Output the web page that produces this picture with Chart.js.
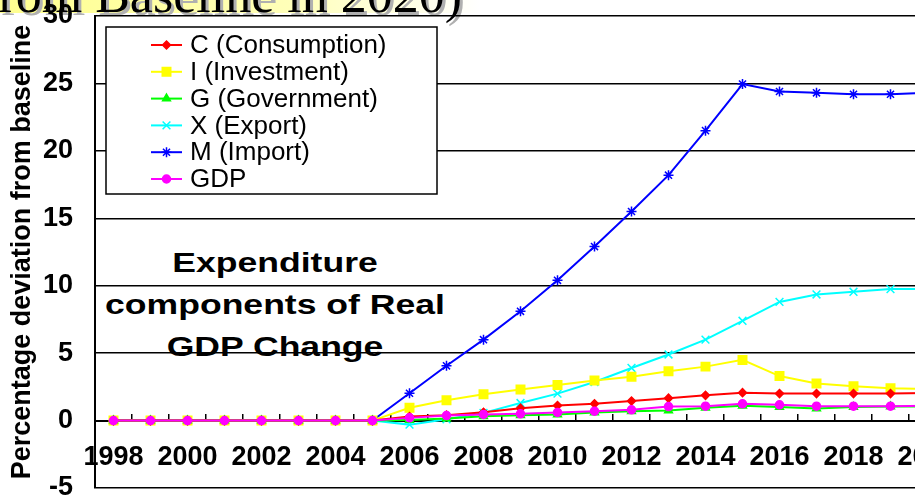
<!DOCTYPE html>
<html>
<head>
<meta charset="utf-8">
<script src="https://cdn.jsdelivr.net/npm/chart.js@4.4.1/dist/chart.umd.min.js"></script>
<style>
  html, body { margin: 0; padding: 0; background: #fff; }
  #wrap { position: relative; width: 915px; height: 500px; overflow: hidden; background: #fff; }
  #band { position: absolute; left: 0; top: 0; width: 480px; height: 13px;
          background: linear-gradient(to right, #ffff90 0%, #ffffb8 60%, rgba(255,255,255,0) 100%); }
  #slideTitle { position: absolute; right: 453px; top: -35px; white-space: nowrap;
                font: 52px "Liberation Serif", "Times New Roman", serif; color: #000;
                text-shadow: 3px 3px 0 #b0b0b0; z-index: 1; }
  #note { position: absolute; left: 75px; top: 242px; width: 400px; text-align: center;
          font: bold 28px "Liberation Sans", Arial, sans-serif; line-height: 42px; color: #000;
          transform: scaleX(1.27); transform-origin: 50% 0; }
  #chartBox { position: absolute; left: 0; top: 0; z-index: 2; }
</style>
</head>
<body>
<div id="wrap">
  <div id="band"></div>
  <div id="slideTitle">from Baseline in 2020)</div>
  <div id="note">Expenditure<br>components of Real<br>GDP Change</div>
  <canvas id="chartBox" width="960" height="500"></canvas>
</div>
<script>
// 年次
const years = ['1998','1999','2000','2001','2002','2003','2004','2005','2006','2007','2008','2009',
               '2010','2011','2012','2013','2014','2015','2016','2017','2018','2019','2020'];
const flat = [0, 0, 0, 0, 0, 0, 0, 0];

// 各系列 (baseline からの乖離 %)
const consumption = flat.concat([0.3, 0.4, 0.62, 0.92, 1.12, 1.25, 1.45, 1.66, 1.87, 2.07, 2.0, 2.0, 2.0, 2.0, 2.05]);
const investment  = flat.concat([0.95, 1.5, 1.95, 2.3, 2.63, 2.98, 3.25, 3.65, 4.0, 4.5, 3.3, 2.75, 2.55, 2.4, 2.35]);
const government  = flat.concat([0.05, 0.15, 0.32, 0.4, 0.45, 0.6, 0.7, 0.75, 0.95, 1.1, 1.0, 0.9, 1.0, 1.05, 1.05]);
const exportsX    = flat.concat([-0.3, 0.1, 0.57, 1.3, 2.0, 2.86, 3.9, 4.9, 6.0, 7.4, 8.8, 9.35, 9.55, 9.75, 9.75]);
const importsM    = flat.concat([2.03, 4.06, 6.0, 8.1, 10.4, 12.9, 15.5, 18.2, 21.5, 24.95, 24.4, 24.3, 24.2, 24.2, 24.3]);
const gdp         = flat.concat([0.2, 0.37, 0.45, 0.5, 0.6, 0.7, 0.8, 1.04, 1.07, 1.24, 1.17, 1.07, 1.07, 1.07, 1.1]);

const yTicks = [-5, 0, 5, 10, 15, 20, 25, 30];

const tickFont = { family: '"Liberation Sans", Arial', size: 27, weight: 'bold' };

function series(label, data, color, style, radius, order) {
    return {
        label: label, data: data, borderColor: color, backgroundColor: color,
        pointBackgroundColor: color, pointBorderColor: color, pointStyle: style,
        pointRadius: radius, pointBorderWidth: 1.5, borderWidth: 2, tension: 0, order: order
    };
}

// 凡例 (グラフ内の枠)
const boxLegend = {
    id: 'boxLegend',
    afterDatasetsDraw(chart) {
        const ctx = chart.ctx;
        const L = 106, T = 27, R = 437, B = 194;
        ctx.save();
        ctx.fillStyle = '#fff';
        ctx.fillRect(L, T, R - L, B - T);
        ctx.strokeStyle = '#000';
        ctx.lineWidth = 1.5;
        ctx.strokeRect(L, T, R - L, B - T);
        ctx.font = '26px "Liberation Sans", Arial, sans-serif';
        ctx.textBaseline = 'middle';
        chart.data.datasets.forEach((ds, i) => {
            const y = 45 + i * 26.8;
            ctx.strokeStyle = ds.borderColor;
            ctx.lineWidth = 2;
            ctx.beginPath();
            ctx.moveTo(151, y);
            ctx.lineTo(182, y);
            ctx.stroke();
            ctx.fillStyle = ds.borderColor;
            ctx.lineWidth = 1.5;
            Chart.helpers.drawPoint(ctx, { pointStyle: ds.pointStyle, radius: ds.pointRadius, rotation: 0, borderWidth: 1.5 }, 166.5, y);
            ctx.fillStyle = '#000';
            ctx.fillText(ds.label, 190, y + 1);
        });
        ctx.restore();
    }
};

new Chart(document.getElementById('chartBox'), {
    type: 'line',
    data: {
        labels: years,
        datasets: [
            series('C (Consumption)', consumption, '#ff0000', 'rectRot', 4, 1),
            series('I (Investment)', investment, '#ffff00', 'rect', 6, 3),
            series('G (Government)', government, '#00ff00', 'triangle', 4.5, 2),
            series('X (Export)', exportsX, '#00ffff', 'crossRot', 5.5, 4),
            series('M (Import)', importsM, '#0000ff', 'star', 5, 5),
            series('GDP', gdp, '#ff00ff', 'circle', 4, 0)
        ]
    },
    options: {
        responsive: false,
        animation: false,
        devicePixelRatio: 1,
        layout: { padding: { top: 16, bottom: 12, left: 0, right: 14 } },
        plugins: { legend: { display: false }, tooltip: { enabled: false } },
        scales: {
            x: {
                type: 'category',
                position: { y: 0 },
                offset: true,
                afterFit: (s) => { s.height = 0; s.paddingLeft = 0; s.paddingRight = 0; },
                grid: { drawOnChartArea: false, offset: true, color: '#000', lineWidth: 1.5, tickLength: -8 },
                border: { display: true, color: '#000', width: 2 },
                ticks: {
                    autoSkip: false, maxRotation: 0, color: '#000', font: tickFont, padding: 29,
                    callback: function(v, i) { return i % 2 === 0 ? this.getLabelForValue(v) : ''; }
                }
            },
            y: {
                min: -5, max: 30,
                afterBuildTicks: (s) => { s.ticks = yTicks.map(v => ({ value: v })); },
                afterFit: (s) => { s.width = 95; s.paddingTop = 0; s.paddingBottom = 0; },
                grid: { color: '#000', lineWidth: 1.5, drawTicks: false },
                border: { display: true, color: '#000', width: 2 },
                ticks: { color: '#000', font: tickFont, padding: 22 },
                title: {
                    display: true, text: 'Percentage deviation from baseline', color: '#000',
                    font: { family: '"Liberation Sans", Arial', size: 27, weight: 'bold' },
                    padding: { top: 6, bottom: 0 }
                }
            }
        }
    },
    plugins: [boxLegend]
});
</script>
</body>
</html>
